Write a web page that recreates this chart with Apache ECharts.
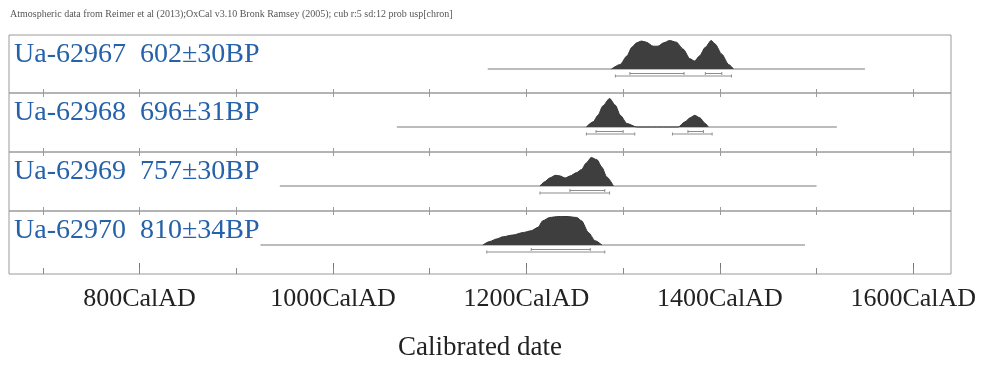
<!DOCTYPE html>
<html>
<head>
<meta charset="utf-8">
<script src="https://cdn.jsdelivr.net/npm/echarts@6/dist/echarts.min.js"></script>
<style>
  html, body { margin: 0; padding: 0; background: #fff; }
  #chart { width: 983px; height: 372px; }
</style>
</head>
<body>
<div id="chart"></div>
<script>
// Calibrated radiocarbon dates, one row per sample
const headerText = 'Atmospheric data from Reimer et al (2013);OxCal v3.10 Bronk Ramsey (2005); cub r:5 sd:12 prob usp[chron]';
const labIds = ['Ua-62967', 'Ua-62968', 'Ua-62969', 'Ua-62970'];
const bpAges = [602, 696, 757, 810];
const bpErrors = [30, 31, 30, 34];

// calendar span of the likelihood baseline for each sample (AD)
const likelihoodSpans = [[1160, 1550], [1066, 1521], [945, 1500], [925, 1488]];

// posterior probability, normalised to the peak (year AD, probability)
const probUa62967 = [[1288,0],[1297,0.16],[1304,0.46],[1309,0.76],[1314,0.92],[1319,0.98],[1324,0.94],[1331,0.80],[1336,0.80],[1342,0.92],[1348,1.0],[1355,0.94],[1362,0.70],[1369,0.36],[1374,0.28],[1379,0.46],[1385,0.76],[1391,1.0],[1395,0.88],[1402,0.52],[1409,0.16],[1414,0]];
const probUa62968 = [[1262,0],[1269,0.18],[1274,0.41],[1279,0.74],[1286,1.0],[1292,0.76],[1297,0.41],[1304,0.12],[1314,0],[1357,0],[1364,0.18],[1369,0.32],[1374,0.41],[1379,0.33],[1385,0.12],[1388,0]];
const probUa62969 = [[1214,0],[1219,0.15],[1224,0.28],[1230,0.375],[1235,0.35],[1240,0.28],[1245,0.35],[1252,0.47],[1257,0.58],[1262,0.81],[1267,1.0],[1273,0.92],[1278,0.66],[1283,0.32],[1290,0]];
const probUa62970 = [[1155,0],[1162,0.12],[1169,0.21],[1176,0.29],[1186,0.35],[1197,0.44],[1205,0.50],[1212,0.62],[1217,0.85],[1224,0.965],[1233,1.0],[1242,1.0],[1252,0.965],[1257,0.85],[1264,0.44],[1271,0.15],[1278,0]];
const probabilities = [probUa62967, probUa62968, probUa62969, probUa62970];

// highest posterior density ranges (AD)
const ranges68 = [[[1307, 1363], [1385, 1402]], [[1272, 1300], [1367, 1383]], [[1245, 1281]], [[1205, 1266]]];
const ranges95 = [[[1292, 1412]], [[1262, 1312], [1351, 1392]], [[1214, 1286]], [[1159, 1281]]];

// axis
const axisMin = 665, axisMax = 1639;
const centuryTicks = [700, 800, 900, 1000, 1100, 1200, 1300, 1400, 1500, 1600];
const labelYears = [800, 1000, 1200, 1400, 1600];
const axisTitle = 'Calibrated date';

// ---- layout ----
const rowTops = [35, 93, 152, 211];
const rowHeights = [58, 59, 59, 63];
const baselineOffset = 34;   // px from row top to the zero line
const peakHeight = 28.5;     // px for probability 1
const frameLeft = 9, frameRight = 983 - 951;
const serif = '"Liberation Serif", "Times New Roman", serif';
const labelBlue = '#2662a9';
const frameGrey = '#9a9a9a';

const chart = echarts.init(document.getElementById('chart'), null, { renderer: 'canvas' });

const grids = [], xAxes = [], yAxes = [], series = [], graphics = [];

function tickAxis(gridIndex, inside, length, values, color) {
  return { type: 'value', gridIndex, min: axisMin, max: axisMax, position: 'bottom',
    axisLine: { show: false, onZero: false }, splitLine: { show: false }, axisLabel: { show: false },
    axisTick: { show: true, inside, length, customValues: values, lineStyle: { color } } };
}

rowTops.forEach((top, i) => {
  const h = rowHeights[i];
  grids.push({ left: frameLeft, right: frameRight, top: top, height: h, show: true,
    borderColor: frameGrey, borderWidth: 1, backgroundColor: 'transparent' });
  yAxes.push({ type: 'value', gridIndex: i, min: -(h - baselineOffset) / peakHeight,
    max: baselineOffset / peakHeight, show: false });

  const last = i === rowTops.length - 1;
  const firstAxis = xAxes.length;
  if (!last) {
    // crossing ticks on the separator line
    xAxes.push(tickAxis(i, true, 4, centuryTicks, frameGrey));
    xAxes.push(tickAxis(i, false, 4, centuryTicks, frameGrey));
  } else {
    const main = tickAxis(i, true, 11, labelYears, '#777');
    main.axisLabel = { show: true, customValues: labelYears, margin: 12,
      formatter: v => v + 'CalAD', fontFamily: serif, fontSize: 26, color: '#222' };
    main.name = axisTitle;
    main.nameLocation = 'middle';
    main.nameGap = 60;
    main.nameTextStyle = { fontFamily: serif, fontSize: 27, color: '#222' };
    xAxes.push(main);
    xAxes.push(tickAxis(i, true, 6, centuryTicks, '#888'));
  }

  // likelihood baseline
  series.push({ type: 'line', xAxisIndex: firstAxis, yAxisIndex: i, symbol: 'none',
    data: [[likelihoodSpans[i][0], 0], [likelihoodSpans[i][1], 0]],
    lineStyle: { color: '#7b7b7b', width: 1.2 }, silent: true, z: 2 });

  // posterior distribution
  series.push({ type: 'line', xAxisIndex: firstAxis, yAxisIndex: i, symbol: 'none',
    data: probabilities[i], smooth: 0.25, smoothMonotone: 'x',
    lineStyle: { color: '#333', width: 1 },
    areaStyle: { color: '#3e3e3e', opacity: 1 }, silent: true, z: 3 });

  // range bars under the baseline
  const rangeData = ranges68[i].map(r => [r[0], r[1], 68]).concat(ranges95[i].map(r => [r[0], r[1], 95]));
  series.push({ type: 'custom', xAxisIndex: firstAxis, yAxisIndex: i, silent: true, z: 4,
    encode: { x: [0, 1] }, data: rangeData,
    renderItem: (params, api) => {
      const s = api.coord([api.value(0), 0]);
      const e = api.coord([api.value(1), 0]);
      const dy = api.value(2) === 68 ? 4.5 : 7;
      const y = s[1] + dy;
      const style = { stroke: '#8d8d8d', lineWidth: 1 };
      return { type: 'group', children: [
        { type: 'line', shape: { x1: s[0], y1: y, x2: e[0], y2: y }, style },
        { type: 'line', shape: { x1: s[0], y1: y - 1.5, x2: s[0], y2: y + 1.5 }, style },
        { type: 'line', shape: { x1: e[0], y1: y - 1.5, x2: e[0], y2: y + 1.5 }, style }
      ] };
    } });

  // sample label
  graphics.push({ type: 'text', left: 14, top: top + 6, z: 10,
    style: { text: labIds[i] + '  ' + bpAges[i] + '±' + bpErrors[i] + 'BP',
      font: '28px ' + serif, fill: labelBlue } });
});

graphics.push({ type: 'text', left: 10, top: 9, z: 10,
  style: { text: headerText, font: '10px ' + serif, fill: '#555' } });

chart.setOption({
  animation: false,
  backgroundColor: '#fff',
  grid: grids,
  xAxis: xAxes,
  yAxis: yAxes,
  series: series,
  graphic: graphics
});
</script>
</body>
</html>
